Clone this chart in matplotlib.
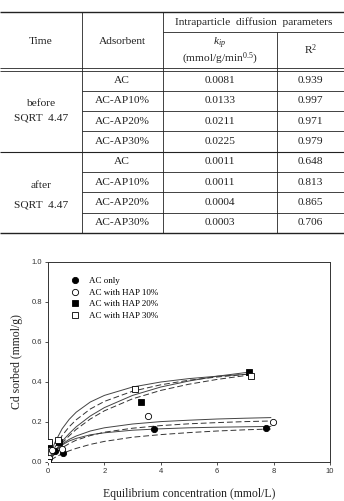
import numpy as np
import matplotlib
matplotlib.use("Agg")
from matplotlib import pyplot as plt

# ---- table data ----
time_groups = ["before", "after"]
adsorbents = ["AC", "AC-AP10%", "AC-AP20%", "AC-AP30%",
              "AC", "AC-AP10%", "AC-AP20%", "AC-AP30%"]
kip_values = ["0.0081", "0.0133", "0.0211", "0.0225",
              "0.0011", "0.0011", "0.0004", "0.0003"]
r2_values = ["0.939", "0.997", "0.971", "0.979",
             "0.648", "0.813", "0.865", "0.706"]

# ---- isotherm data (Cd sorbed vs equilibrium conc.) ----
ac_x = [0.01, 0.25, 0.52, 3.77, 7.73]
ac_y = [0.01, 0.055, 0.045, 0.167, 0.17]
hap10_x = [0.03, 0.15, 0.5, 3.56, 7.97]
hap10_y = [0.02, 0.06, 0.065, 0.23, 0.198]
hap20_x = [0.0, 0.05, 0.4, 3.29, 7.14]
hap20_y = [0.0, 0.09, 0.1, 0.30, 0.45]
hap30_x = [0.0, 0.02, 0.37, 3.09, 7.19]
hap30_y = [0.0, 0.10, 0.11, 0.365, 0.43]

# fitted curves and bands
fit_x_up = [0.1, 0.25, 0.5, 0.75, 1, 1.5, 2, 3, 4, 5, 6, 7, 7.2]
fit_up_1 = [0.045, 0.099, 0.166, 0.213, 0.249, 0.300, 0.333, 0.375, 0.400, 0.417, 0.429, 0.438, 0.440]
fit_up_2 = [0.033, 0.075, 0.132, 0.176, 0.211, 0.265, 0.303, 0.354, 0.386, 0.409, 0.425, 0.438, 0.440]
fit_up_3 = [0.024, 0.056, 0.103, 0.142, 0.176, 0.230, 0.272, 0.333, 0.375, 0.405, 0.429, 0.447, 0.450]
fit_up_4 = [0.022, 0.051, 0.094, 0.131, 0.163, 0.215, 0.256, 0.316, 0.358, 0.389, 0.413, 0.432, 0.435]
fit_x_low = [0.1, 0.25, 0.5, 0.75, 1, 1.5, 2, 3, 4, 5, 6, 7, 7.9]
fit_low_1 = [0.025, 0.054, 0.089, 0.113, 0.130, 0.155, 0.171, 0.190, 0.202, 0.209, 0.215, 0.219, 0.222]
fit_low_2 = [0.019, 0.041, 0.071, 0.092, 0.109, 0.132, 0.149, 0.169, 0.182, 0.191, 0.197, 0.202, 0.205]
fit_low_3 = [0.027, 0.055, 0.085, 0.105, 0.118, 0.136, 0.146, 0.159, 0.166, 0.171, 0.174, 0.176, 0.178]
fit_low_4 = [0.010, 0.023, 0.041, 0.056, 0.068, 0.088, 0.103, 0.124, 0.137, 0.147, 0.155, 0.161, 0.165]

SERIF = "Liberation Serif"
SANS = "Liberation Sans"
plt.rcParams["mathtext.fontset"] = "custom"
plt.rcParams["mathtext.rm"] = SERIF
plt.rcParams["mathtext.it"] = SERIF + ":italic"

fig = plt.figure(figsize=(3.44, 5.01), dpi=100)

# ---- table, drawn in pixel coordinates ----
tab = fig.add_axes([0, 0, 1, 1])
tab.set_xlim(0, 344)
tab.set_ylim(501, 0)
tab.set_axis_off()

W = 344
c1, c2, c3 = 82, 163, 277
rows = np.linspace(70.5, 233, 9)
k = dict(color="#222222", solid_capstyle="butt")

tab.plot([0, W], [12, 12], lw=1.0, **k)
tab.plot([c2, W], [32, 32], lw=0.6, **k)
tab.plot([0, W], [67.5, 67.5], lw=0.6, **k)
tab.plot([0, W], [70.5, 70.5], lw=0.6, **k)
for i, yy in enumerate(rows[1:-1], start=1):
    if i == 4:
        tab.plot([0, W], [yy, yy], lw=0.8, **k)
    else:
        tab.plot([c1, W], [yy, yy], lw=0.6, **k)
tab.plot([0, W], [233, 233], lw=1.0, **k)
tab.plot([c1, c1], [12, 233], lw=0.6, **k)
tab.plot([c2, c2], [12, 233], lw=0.6, **k)
tab.plot([c3, c3], [32, 233], lw=0.6, **k)

tfont = dict(family=SERIF, size=8.2, color="#222222", ha="center", va="center")
tab.text(41, 41.5, "Time", **tfont)
tab.text(122, 41.5, "Adsorbent", **tfont)
tab.text((c2 + W) / 2, 22, "Intraparticle  diffusion  parameters", **tfont)
tab.text(220, 43, r"$k_{ip}$", **tfont)
tab.text(220, 59, r"(mmol/g/min$^{0.5}$)", **tfont)
tab.text((c3 + W) / 2, 50, r"R$^2$", **tfont)

centers = (rows[:-1] + rows[1:]) / 2
for i in range(len(adsorbents)):
    tab.text(122, centers[i], adsorbents[i], **tfont)
    tab.text(220, centers[i], kip_values[i], **tfont)
    tab.text((c3 + W) / 2, centers[i], r2_values[i], **tfont)

tab.text(41, 103, time_groups[0], **tfont)
tab.text(41, 118, "SQRT  4.47", **tfont)
tab.text(41, 185, time_groups[1], **tfont)
tab.text(41, 205, "SQRT  4.47", **tfont)

# ---- isotherm chart ----
ax = fig.add_axes([48 / 344, 1 - 462 / 501, 282 / 344, 200 / 501])

for yv in (fit_up_1, fit_up_3):
    ax.plot(fit_x_up, yv, color="#444444", lw=0.7)
for yv in (fit_up_2, fit_up_4):
    ax.plot(fit_x_up, yv, color="#333333", lw=0.7, dashes=(6, 3))
for yv in (fit_low_1, fit_low_3):
    ax.plot(fit_x_low, yv, color="#444444", lw=0.7)
for yv in (fit_low_2, fit_low_4):
    ax.plot(fit_x_low, yv, color="#333333", lw=0.7, dashes=(6, 3))

ms = 4.5
ax.plot(ac_x, ac_y, "o", ms=ms, mfc="black", mec="black", mew=0.6,
        label="AC only", zorder=3)
ax.plot(hap10_x, hap10_y, "o", ms=ms, mfc="white", mec="black", mew=0.6,
        label="AC with HAP 10%", zorder=3)
ax.plot(hap20_x, hap20_y, "s", ms=ms, mfc="black", mec="black", mew=0.6,
        label="AC with HAP 20%", zorder=3)
ax.plot(hap30_x, hap30_y, "s", ms=ms, mfc="white", mec="black", mew=0.6,
        label="AC with HAP 30%", zorder=3)

ax.set_xlim(0, 10)
ax.set_ylim(0, 1.0)
ax.set_xticks(np.arange(0, 11, 2))
ax.set_yticks(np.arange(0, 1.01, 0.2))
ax.set_yticklabels(["%.1f" % v for v in np.arange(0, 1.01, 0.2)])
ax.tick_params(direction="out", length=2.5, width=0.6, pad=2,
               labelsize=5.5, colors="#333333")
for lab in ax.get_xticklabels() + ax.get_yticklabels():
    lab.set_family(SANS)
for sp in ax.spines.values():
    sp.set_linewidth(0.7)
    sp.set_color("#333333")

ax.set_xlabel("Equilibrium concentration (mmol/L)", family=SERIF,
              size=8.5, color="#222222", labelpad=9)
ax.set_ylabel("Cd sorbed (mmol/g)", family=SERIF, size=8.5,
              color="#222222", labelpad=6)

leg = ax.legend(loc="upper left", bbox_to_anchor=(0.08, 0.925),
                frameon=False, handlelength=1.0, handletextpad=1.0,
                labelspacing=0.35, borderpad=0, borderaxespad=0,
                prop=dict(family=SERIF, size=6.5))

fig.savefig("out.png", dpi=100)
